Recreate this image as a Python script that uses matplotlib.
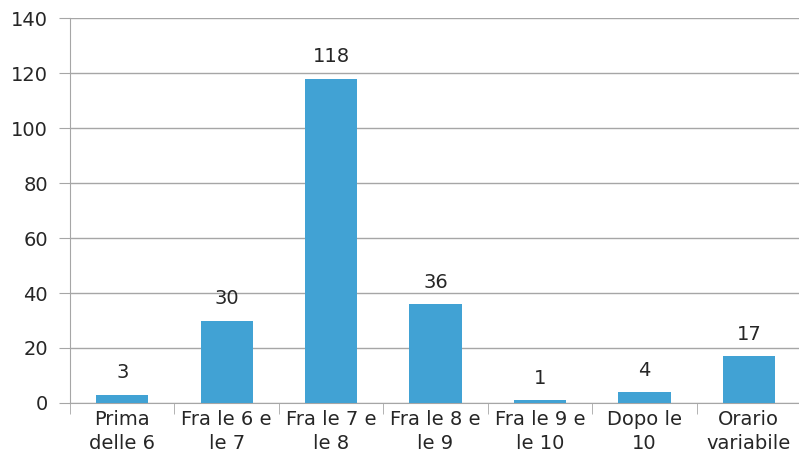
import numpy as np
import matplotlib.pyplot as plt

categories = ['Prima\ndelle 6', 'Fra le 6 e\nle 7', 'Fra le 7 e\nle 8', 'Fra le 8 e\nle 9',
              'Fra le 9 e\nle 10', 'Dopo le\n10', 'Orario\nvariabile']
values = [3, 30, 118, 36, 1, 4, 17]

plt.rcParams['font.family'] = ['DejaVu Sans']
fig = plt.figure(figsize=(7.99, 4.75), dpi=100)
ax = fig.add_axes([0.0876, 0.1516, 0.915, 0.8104])

x = np.arange(len(categories))
ax.bar(x, values, width=0.5, color='#41A2D4', zorder=3)
for xi, v in zip(x, values):
    ax.text(xi, v + 4.5, str(v), ha='center', va='bottom', fontsize=14, color='#262626')

ax.set_xlim(-0.5, len(categories) - 0.5)
ax.set_ylim(0, 140)
ax.set_yticks(range(0, 141, 20))
ax.yaxis.grid(True, color='#A6A6A6', linewidth=1, zorder=0)
ax.set_xticks(x)
ax.set_xticklabels(categories, fontsize=14, color='#262626', linespacing=1.35)
ax.set_xticks(np.arange(-0.5, len(categories), 1), minor=True)
ax.tick_params(axis='x', which='major', length=0, pad=5)
ax.tick_params(axis='x', which='minor', length=8, color='#A6A6A6')
ax.tick_params(axis='y', length=8, color='#A6A6A6', labelsize=14, labelcolor='#262626', pad=8)

for s in ['top', 'right']:
    ax.spines[s].set_visible(False)
for s in ['left', 'bottom']:
    ax.spines[s].set_color('#A6A6A6')

fig.savefig('out.png', dpi=100)
